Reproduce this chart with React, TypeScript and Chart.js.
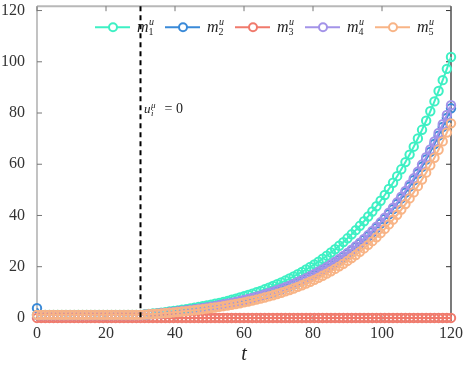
import React, { useEffect, useRef } from "react";
import { Chart, registerables } from "chart.js";

Chart.register(...registerables);

const T = [0, 1.2, 2.4, 3.6, 4.8, 6, 7.2, 8.4, 9.6, 10.8, 12, 13.2, 14.4, 15.6, 16.8, 18, 19.2, 20.4, 21.6, 22.8, 24, 25.2, 26.4, 27.6, 28.8, 30,
  31.2, 32.4, 33.6, 34.8, 36, 37.2, 38.4, 39.6, 40.8, 42, 43.2, 44.4, 45.6, 46.8, 48, 49.2, 50.4, 51.6, 52.8, 54, 55.2, 56.4, 57.6, 58.8, 60,
  61.2, 62.4, 63.6, 64.8, 66, 67.2, 68.4, 69.6, 70.8, 72, 73.2, 74.4, 75.6, 76.8, 78, 79.2, 80.4, 81.6, 82.8, 84, 85.2, 86.4, 87.6, 88.8, 90,
  91.2, 92.4, 93.6, 94.8, 96, 97.2, 98.4, 99.6, 100.8, 102, 103.2, 104.4, 105.6, 106.8, 108, 109.2, 110.4, 111.6, 112.8, 114, 115.2, 116.4, 117.6, 118.8, 120];

const M1 = [1.2, 1.2, 1.2, 1.2, 1.2, 1.2, 1.2, 1.2, 1.2, 1.2, 1.2, 1.2, 1.2, 1.2, 1.2, 1.2, 1.2, 1.2, 1.2, 1.2, 1.2, 1.2, 1.2, 1.2, 1.2, 1.2,
  1.36, 1.53, 1.70, 1.88, 2.07, 2.27, 2.48, 2.70, 2.93, 3.17, 3.42, 3.68, 3.95, 4.24, 4.54, 4.86, 5.19, 5.53, 5.89, 6.27, 6.67, 7.08, 7.51, 7.97, 8.44,
  8.94, 9.46, 10.00, 10.57, 11.17, 11.79, 12.45, 13.13, 13.84, 14.59, 15.38, 16.20, 17.06, 17.95, 18.90, 19.88, 20.91, 21.99, 23.12, 24.30,
  25.54, 26.83, 28.18, 29.60, 31.08, 32.64, 34.27, 35.96, 37.75, 39.61, 41.56, 43.60, 45.74, 47.98, 50.32, 52.77, 55.34, 58.02, 60.83, 63.77,
  66.85, 70.07, 73.44, 76.97, 80.67, 84.53, 88.58, 92.82, 97.25, 101.88];

const M2 = [3.8, 1.1, 1.1, 1.1, 1.1, 1.1, 1.1, 1.1, 1.1, 1.1, 1.1, 1.1, 1.1, 1.1, 1.1, 1.1, 1.1, 1.1, 1.1, 1.1, 1.1, 1.1, 1.1, 1.1, 1.1, 1.1,
  1.23, 1.36, 1.50, 1.65, 1.80, 1.96, 2.13, 2.30, 2.49, 2.68, 2.88, 3.09, 3.31, 3.54, 3.78, 4.03, 4.30, 4.57, 4.86, 5.17, 5.48, 5.82, 6.16, 6.53, 6.91,
  7.30, 7.72, 8.16, 8.61, 9.09, 9.59, 10.12, 10.66, 11.24, 11.84, 12.47, 13.12, 13.81, 14.53, 15.29, 16.08, 16.90, 17.77, 18.67, 19.62,
  20.61, 21.65, 22.74, 23.87, 25.06, 26.31, 27.61, 28.98, 30.40, 31.90, 33.46, 35.10, 36.81, 38.61, 40.49, 42.45, 44.51, 46.66, 48.91, 51.27,
  53.74, 56.32, 59.02, 61.85, 64.82, 67.91, 71.16, 74.56, 78.11, 81.83];

const M3 = [0, 0, 0, 0, 0, 0, 0, 0, 0, 0, 0, 0, 0, 0, 0, 0, 0, 0, 0, 0, 0, 0, 0, 0, 0, 0,
  0, 0, 0, 0, 0, 0, 0, 0, 0, 0, 0, 0, 0, 0, 0, 0, 0, 0, 0, 0, 0, 0, 0, 0, 0,
  0, 0, 0, 0, 0, 0, 0, 0, 0, 0, 0, 0, 0, 0, 0, 0, 0, 0, 0, 0, 0, 0, 0, 0, 0,
  0, 0, 0, 0, 0, 0, 0, 0, 0, 0, 0, 0, 0, 0, 0, 0, 0, 0, 0, 0, 0, 0, 0, 0, 0];

const M4 = [1.1, 1.1, 1.1, 1.1, 1.1, 1.1, 1.1, 1.1, 1.1, 1.1, 1.1, 1.1, 1.1, 1.1, 1.1, 1.1, 1.1, 1.1, 1.1, 1.1, 1.1, 1.1, 1.1, 1.1, 1.1, 1.1,
  1.23, 1.37, 1.51, 1.65, 1.81, 1.97, 2.14, 2.32, 2.51, 2.70, 2.90, 3.12, 3.34, 3.58, 3.82, 4.08, 4.34, 4.62, 4.92, 5.23, 5.55, 5.88, 6.24, 6.61, 6.99,
  7.40, 7.82, 8.26, 8.72, 9.21, 9.72, 10.25, 10.80, 11.39, 12.00, 12.63, 13.30, 14.00, 14.73, 15.50, 16.30, 17.13, 18.01, 18.93, 19.89,
  20.90, 21.95, 23.05, 24.21, 25.41, 26.68, 28.00, 29.38, 30.83, 32.35, 33.94, 35.60, 37.33, 39.15, 41.06, 43.05, 45.14, 47.32, 49.61, 52.00,
  54.51, 57.13, 59.87, 62.74, 65.75, 68.89, 72.18, 75.63, 79.24, 83.01];

const M5 = [1.2, 1.2, 1.2, 1.2, 1.2, 1.2, 1.2, 1.2, 1.2, 1.2, 1.2, 1.2, 1.2, 1.2, 1.2, 1.2, 1.2, 1.2, 1.2, 1.2, 1.2, 1.2, 1.2, 1.2, 1.2, 1.2,
  1.30, 1.41, 1.53, 1.64, 1.77, 1.90, 2.04, 2.18, 2.33, 2.49, 2.66, 2.84, 3.02, 3.21, 3.41, 3.63, 3.85, 4.08, 4.33, 4.58, 4.85, 5.14, 5.43, 5.75, 6.07,
  6.42, 6.77, 7.15, 7.55, 7.96, 8.40, 8.86, 9.34, 9.84, 10.37, 10.92, 11.50, 12.11, 12.75, 13.42, 14.13, 14.87, 15.64, 16.46, 17.31,
  18.20, 19.14, 20.13, 21.16, 22.25, 23.39, 24.58, 25.83, 27.15, 28.53, 29.97, 31.49, 33.09, 34.76, 36.51, 38.35, 40.28, 42.30, 44.43, 46.66,
  49.00, 51.45, 54.02, 56.72, 59.56, 62.53, 65.65, 68.92, 72.35, 75.96];

const SERIES = [M1, M2, M3, M4, M5];
const SUBS = ["1", "2", "3", "4", "5"];
const COLORS = ["#3ef0c4", "#3a8ad8", "#f07a6c", "#a393e8", "#f8b486"];
const X_TICKS = [0, 20, 40, 60, 80, 100, 120];
const Y_TICKS = [0, 20, 40, 60, 80, 100, 120];
const SWITCH_T = 30;
const SERIF = "'Liberation Serif', 'DejaVu Serif', serif";

const decor = {
  id: "decor",
  beforeDatasetsDraw(chart: any) {
    const { ctx, chartArea: a, scales } = chart;
    const xs = scales.x, ys = scales.y;
    ctx.save();
    ctx.lineWidth = 1.2;
    ctx.strokeStyle = "#9a9a9a";
    ctx.beginPath(); ctx.moveTo(a.left, a.top); ctx.lineTo(a.left, a.bottom); ctx.stroke();
    ctx.beginPath(); ctx.moveTo(a.left, a.bottom); ctx.lineTo(a.right, a.bottom); ctx.stroke();
    ctx.strokeStyle = "#b8b8b8"; ctx.lineWidth = 2;
    ctx.beginPath(); ctx.moveTo(a.left, a.top); ctx.lineTo(a.right, a.top); ctx.stroke();
    ctx.strokeStyle = "#333"; ctx.lineWidth = 1.3;
    ctx.beginPath(); ctx.moveTo(a.right, a.top); ctx.lineTo(a.right, a.bottom); ctx.stroke();
    ctx.lineWidth = 1;
    Y_TICKS.forEach((v) => {
      const y = ys.getPixelForValue(v);
      ctx.strokeStyle = "#777";
      ctx.beginPath(); ctx.moveTo(a.left, y); ctx.lineTo(a.left + 5, y); ctx.stroke();
      ctx.strokeStyle = "#333";
      ctx.beginPath(); ctx.moveTo(a.right, y); ctx.lineTo(a.right - 5, y); ctx.stroke();
    });
    X_TICKS.forEach((v) => {
      const x = xs.getPixelForValue(v);
      ctx.strokeStyle = "#777";
      ctx.beginPath(); ctx.moveTo(x, a.top); ctx.lineTo(x, a.top + 5); ctx.stroke();
      ctx.beginPath(); ctx.moveTo(x, a.bottom); ctx.lineTo(x, a.bottom - 5); ctx.stroke();
    });
    ctx.restore();
  },
  afterDatasetsDraw(chart: any) {
    const { ctx, chartArea: a, scales } = chart;
    const xs = scales.x, ys = scales.y;
    ctx.save();
    const ly = a.top + 21;
    for (let k = 0; k < 5; k++) {
      const x0 = a.left + 58 + 70 * k;
      ctx.strokeStyle = COLORS[k];
      ctx.lineWidth = 2;
      ctx.beginPath(); ctx.moveTo(x0, ly); ctx.lineTo(x0 + 35, ly); ctx.stroke();
      ctx.beginPath(); ctx.arc(x0 + 18, ly, 4, 0, Math.PI * 2);
      ctx.fillStyle = "#fff"; ctx.fill();
      ctx.lineWidth = 2; ctx.stroke();
      ctx.fillStyle = "#222";
      ctx.textBaseline = "alphabetic";
      ctx.textAlign = "left";
      ctx.font = `italic 16px ${SERIF}`;
      const tx = x0 + 42;
      ctx.fillText("m", tx, ly + 5);
      const mw = ctx.measureText("m").width;
      ctx.font = `italic 10px ${SERIF}`;
      ctx.fillText("u", tx + mw + 0.5, ly - 2);
      ctx.font = `10px ${SERIF}`;
      ctx.fillText(SUBS[k], tx + mw, ly + 8);
    }
    const sx = xs.getPixelForValue(SWITCH_T);
    ctx.strokeStyle = "#000";
    ctx.lineWidth = 2;
    ctx.setLineDash([5, 4]);
    ctx.beginPath(); ctx.moveTo(sx, a.top); ctx.lineTo(sx, a.bottom); ctx.stroke();
    ctx.setLineDash([]);
    const ax = sx + 3.5, ay = ys.getPixelForValue(80);
    ctx.fillStyle = "#222";
    ctx.font = `italic 13px ${SERIF}`;
    ctx.fillText("u", ax, ay);
    const uw = ctx.measureText("u").width;
    ctx.font = `italic 9px ${SERIF}`;
    ctx.fillText("μ", ax + uw + 0.5, ay - 5);
    ctx.fillText("i", ax + uw + 0.5, ay + 3);
    ctx.font = `14px ${SERIF}`;
    ctx.fillText("= 0", ax + uw + 14, ay);
    ctx.font = `italic 20px ${SERIF}`;
    ctx.textAlign = "center";
    ctx.textBaseline = "middle";
    ctx.fillStyle = "#222";
    ctx.fillText("t", (a.left + a.right) / 2, a.bottom + 34);
    ctx.restore();
  },
};

export default function App() {
  const ref = useRef<HTMLCanvasElement>(null);
  useEffect(() => {
    document.body.style.margin = "0";
    const datasets = SERIES.map((vals, k) => ({
      label: "m" + SUBS[k],
      data: T.map((t, i) => ({ x: t, y: vals[i] })),
      borderColor: COLORS[k],
      backgroundColor: "transparent",
      pointBorderColor: COLORS[k],
      pointBackgroundColor: "transparent",
      pointRadius: 4.2,
      pointBorderWidth: 2,
      borderWidth: 2,
      tension: 0,
      clip: false as any,
      order: 5 - k,
    }));
    const chart = new Chart(ref.current!, {
      type: "line",
      data: { datasets },
      options: {
        animation: false,
        responsive: false,
        devicePixelRatio: 1,
        events: [],
        layout: { padding: { top: 2, right: 14, left: 0, bottom: 0 } },
        plugins: { legend: { display: false }, tooltip: { enabled: false } },
        scales: {
          x: {
            type: "linear",
            min: 0,
            max: 120,
            grid: { display: false, drawTicks: false, tickLength: 0 },
            border: { display: false },
            ticks: { padding: 3, color: "#333", font: { family: SERIF, size: 16 }, maxRotation: 0, autoSkip: false },
            afterBuildTicks: (s: any) => { s.ticks = X_TICKS.map((v) => ({ value: v })); },
            afterFit: (s: any) => { s.height = 45; s.paddingLeft = 0; s.paddingRight = 0; },
          },
          y: {
            type: "linear",
            min: -1.2,
            max: 121.7,
            grid: { display: false, drawTicks: false, tickLength: 0 },
            border: { display: false },
            ticks: { padding: 12, color: "#333", font: { family: SERIF, size: 16 }, autoSkip: false },
            afterBuildTicks: (s: any) => { s.ticks = Y_TICKS.map((v) => ({ value: v })); },
            afterFit: (s: any) => { s.width = 37; s.paddingTop = 0; s.paddingBottom = 0; },
          },
        },
      },
      plugins: [decor],
    });
    return () => chart.destroy();
  }, []);
  return (
    <div style={{ width: 465, height: 366 }}>
      <canvas ref={ref} width={465} height={366} />
    </div>
  );
}
